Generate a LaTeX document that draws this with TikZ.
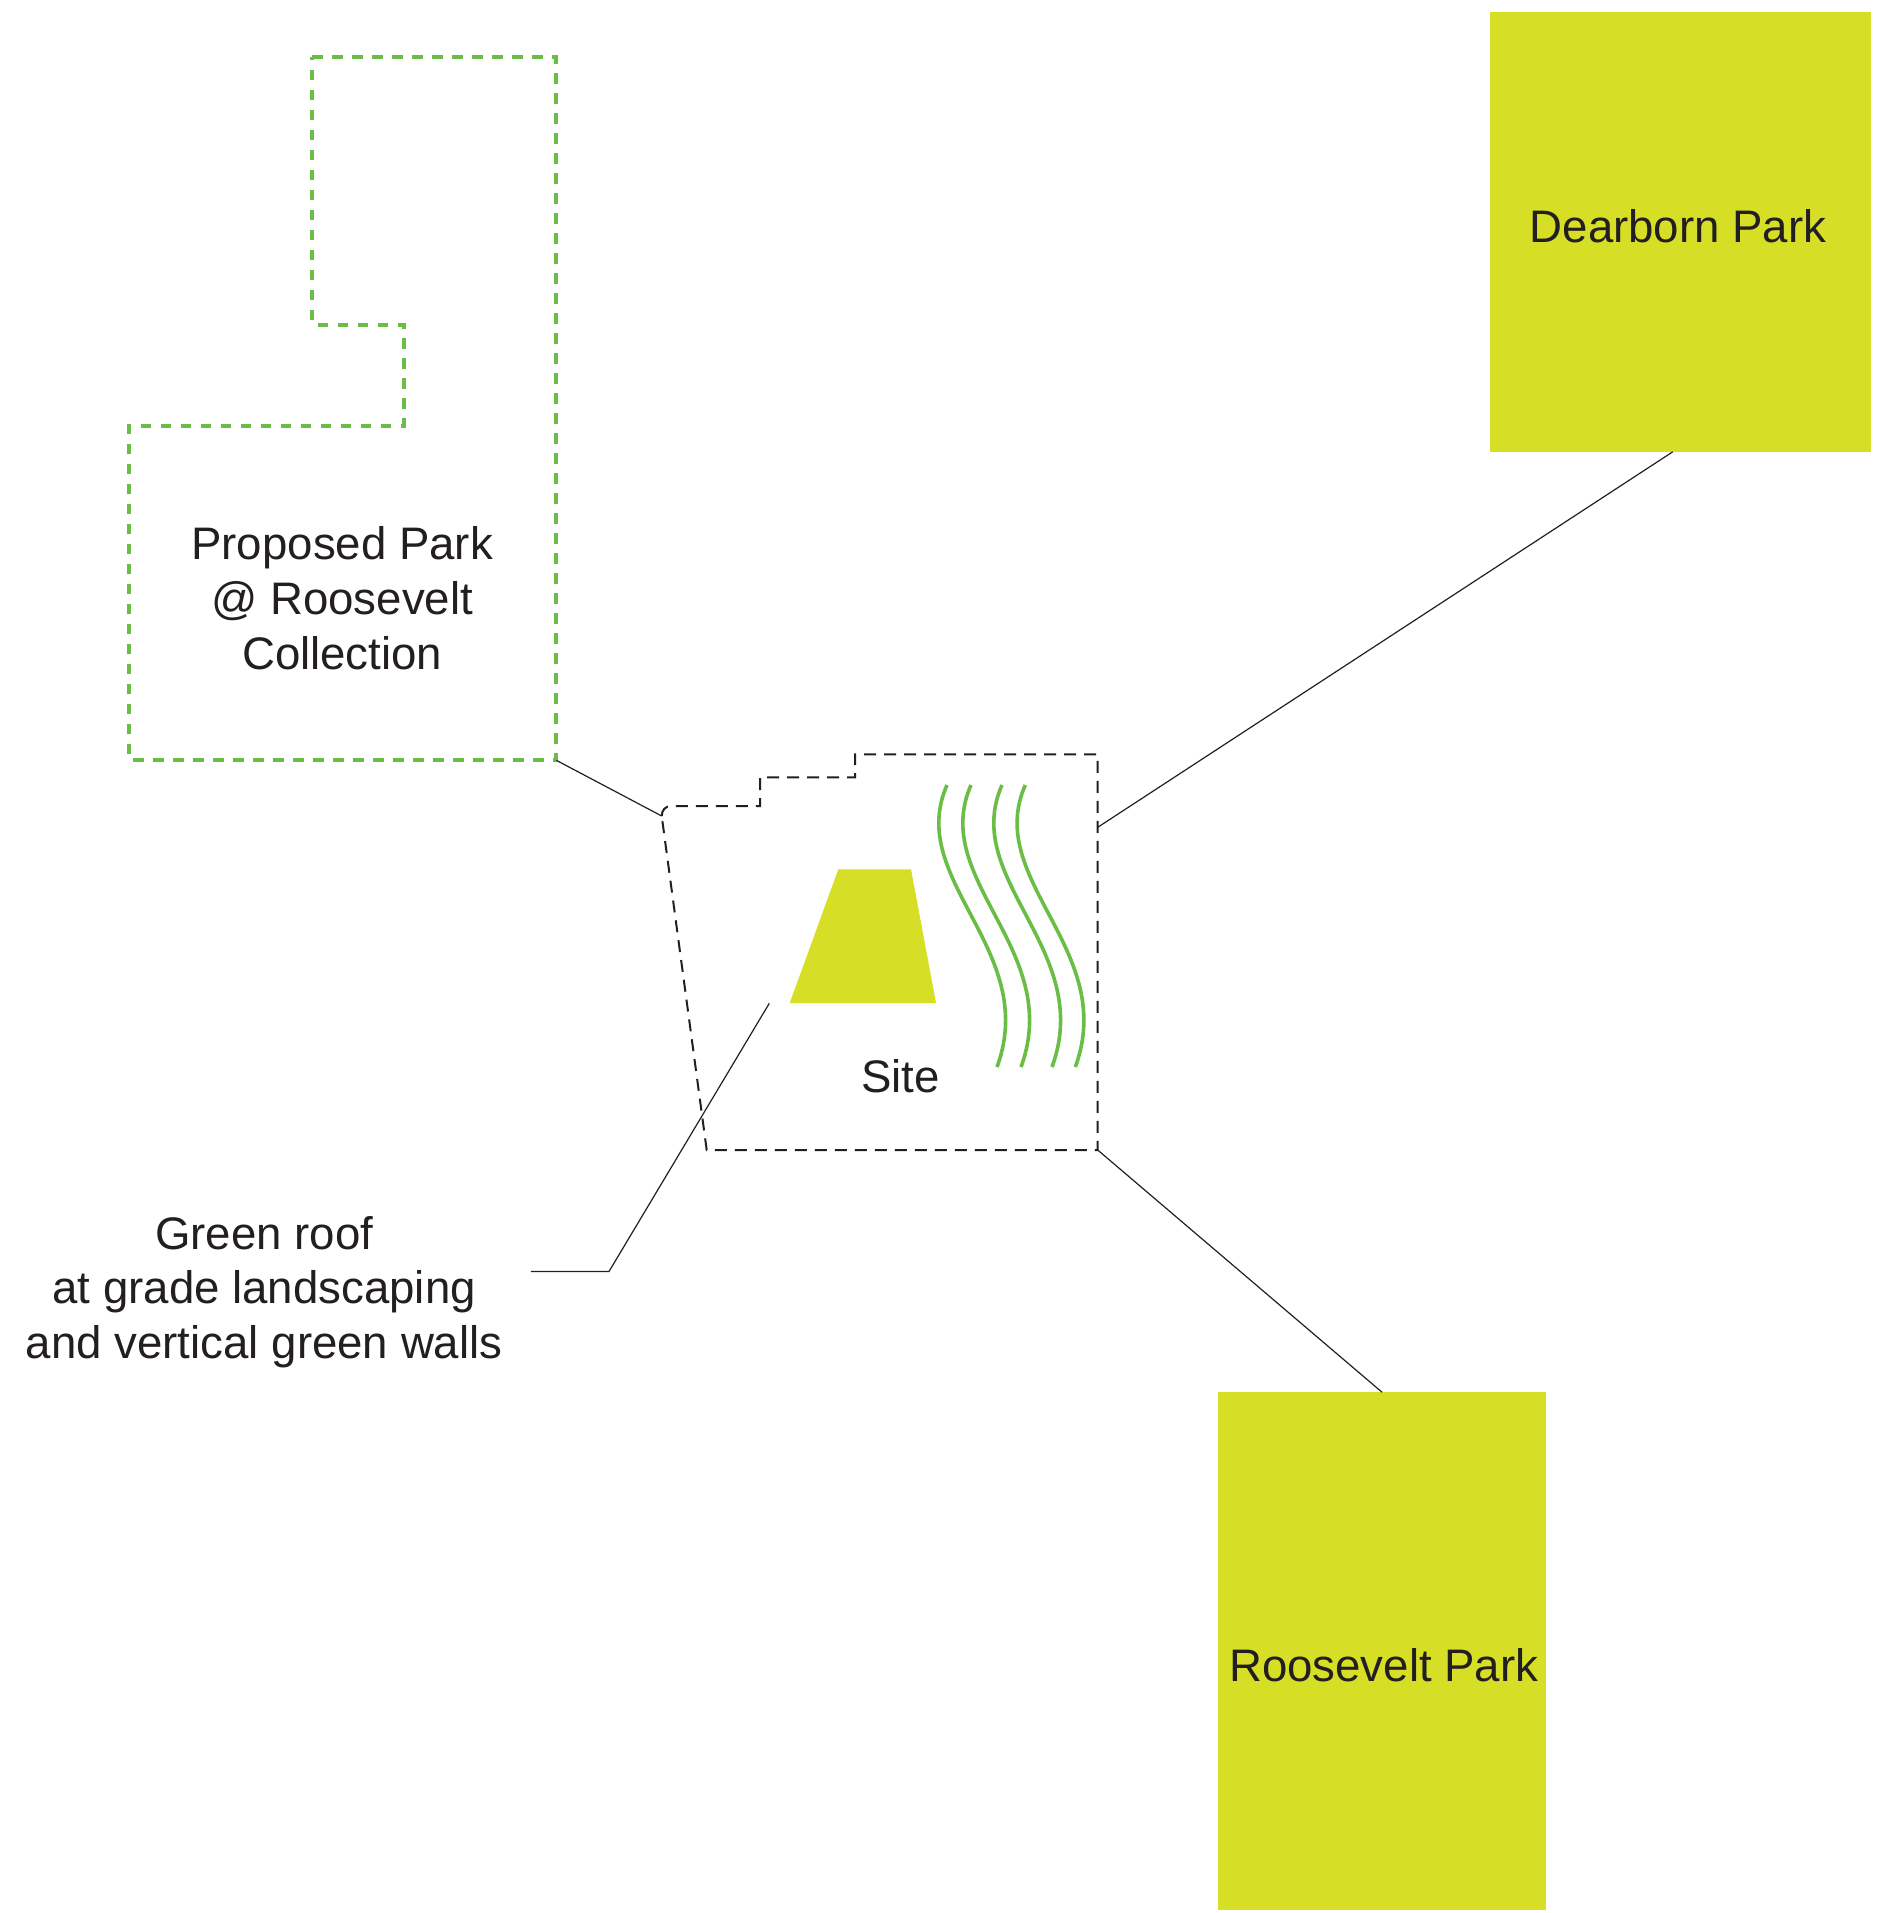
\documentclass[tikz,border=0pt]{standalone}
\usepackage{fontspec}
\setmainfont{Liberation Sans}
\definecolor{parkfill}{HTML}{D6DE26}
\definecolor{leafgreen}{HTML}{6ABD45}
\definecolor{ink}{HTML}{231F20}
\begin{document}
\begin{tikzpicture}[x=1pt,y=-1pt,
  park/.style={fill=parkfill, draw=none, inner sep=0pt, rectangle},
  lbl/.style={font=\fontsize{45.6}{55}\selectfont, text=ink, anchor=base, inner sep=0pt},
  link/.style={draw=ink, line width=1.2pt},
  sitebound/.style={draw=ink, line width=2pt, dash pattern=on 12pt off 8pt},
  proposedbound/.style={draw=leafgreen, line width=4pt, dash pattern=on 10.5pt off 9.5pt},
  wall/.style={draw=leafgreen, line width=3.6pt}]
\useasboundingbox (0,0) rectangle (1878,1913);
\fill[white] (0,0) rectangle (1878,1913);

% parks
\node[park, minimum width=380.7pt, minimum height=439.6pt] (dearborn) at (1680.35,231.8) {};
\node[lbl] (dearbornlabel) at (1678,242.7) {Dearborn Park};
\node[park, minimum width=328.2pt, minimum height=517.4pt] (roosevelt) at (1382,1651.1) {};
\node[lbl] (rooseveltlabel) at (1383.7,1681.7) {Roosevelt Park};

% proposed park outline
\coordinate (proposedcorner) at (556.3,760.3);
\draw[proposedbound] (312.4,57) -- (556.3,57) -- (proposedcorner) -- (129.4,760.3)
  -- (129.4,425.9) -- (403.9,425.9) -- (403.9,324.6) -- (312.4,324.6) -- cycle;
\node[lbl] (proposed1) at (342.2,559.3) {Proposed Park};
\node[lbl] (proposed2) at (342.2,614.2) {@ Roosevelt};
\node[lbl] (proposed3) at (342.2,669.2) {Collection};

% site outline
\coordinate (siteA) at (661.7,816);
\coordinate (siteE) at (1097.7,827.3);
\coordinate (siteSE) at (1097.7,1150);
\draw[sitebound] (siteA) .. controls (662,810) and (665,806) .. (672,806) -- (760,806)
  -- (760,777.3) -- (855,777.3) -- (855,754.3) -- (1097.7,754.3) -- (siteSE)
  -- (706.7,1150) -- cycle;

% green roof
\fill[parkfill] (838.3,869.3) -- (911,869.3) -- (936,1003) -- (789.7,1003) -- cycle;
\node[lbl] (sitelabel) at (900.5,1092.3) {Site};

% green walls
\foreach \dx in {0,24,55,78.3}
  \draw[wall] (947+\dx,785) .. controls (905+\dx,880) and (1040+\dx,950) .. (997+\dx,1067);

% connectors
\draw[link] (proposedcorner) -- (siteA);
\draw[link] (siteE) -- ([xshift=-7.6pt]dearborn.south);
\draw[link] (siteSE) -- (roosevelt.north);
\coordinate (roofpoint) at (769.3,1003.3);
\coordinate (leaderknee) at (609,1271.5);
\coordinate (leaderend) at (530.8,1271.5);
\draw[link] (roofpoint) -- (leaderknee) -- (leaderend);

\node[lbl] (roof1) at (264.2,1249) {Green roof};
\node[lbl] (roof2) at (264.2,1303.5) {at grade landscaping};
\node[lbl] (roof3) at (264.2,1358) {and vertical green walls};
\end{tikzpicture}
\end{document}
